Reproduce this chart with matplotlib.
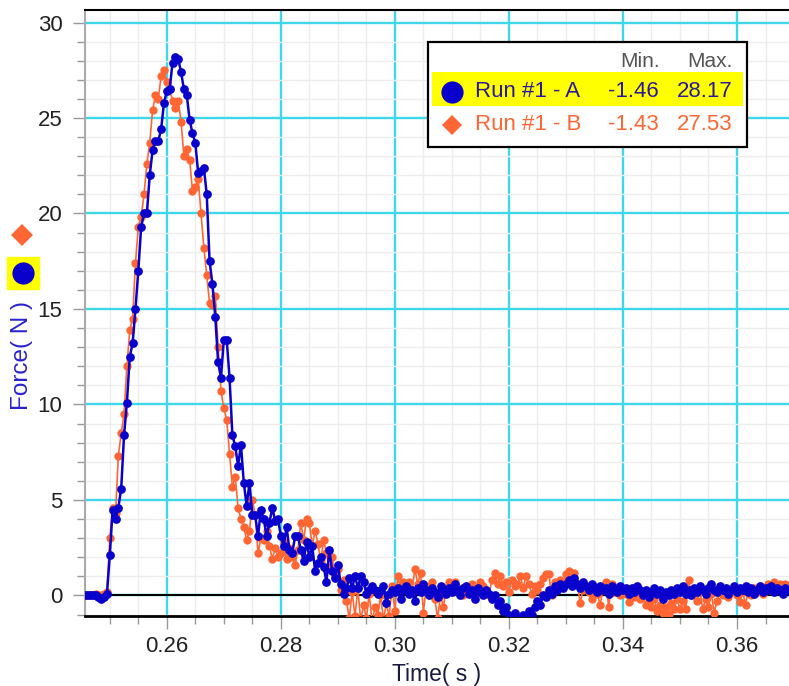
import matplotlib
matplotlib.use('Agg')
import matplotlib.pyplot as plt
from matplotlib.patches import Rectangle
from matplotlib.lines import Line2D
from matplotlib.ticker import MultipleLocator
import numpy as np

plt.rcParams['font.family'] = ['Liberation Sans', 'DejaVu Sans']

# ———————— DATA ————————
T_START = 0.2455
T_STEP = 0.0005

run_a = [
    0.0, 0.0, 0.0, 0.0, 0.0, -0.1, -0.2, -0.1, 0.1,
    2.1, 4.5, 4.0, 4.6, 5.6, 8.4, 10.1, 12.5, 13.2, 15.0, 17.0, 19.3,
    20.0, 20.0, 22.0, 23.3, 23.8, 23.8, 24.4, 25.8, 26.4, 26.5, 27.9, 28.17,
    28.1, 27.4, 26.5, 26.2, 24.9, 24.2, 23.7, 22.1, 22.2, 22.4, 21.0, 17.5,
    16.3, 14.6, 12.2, 11.4, 13.4, 13.4, 11.4, 8.4, 7.8, 6.8, 7.9, 5.9,
    4.7, 5.9, 4.2, 4.2, 3.1, 4.5, 4.0, 3.1, 3.8, 4.6, 3.9, 4.0,
    3.1, 2.6, 3.6, 2.4, 2.2, 3.1, 3.1, 2.4, 1.8, 2.8, 2.0, 2.6,
    1.3, 1.7, 2.0, 1.5, 0.7, 2.4, 1.3, 0.9, 1.6, 0.6, 0.1, 0.4,
    0.9, 0.4, 1.0, 0.4, 1.0, 0.7, 0.1, 0.3, 0.5, 0.3, 0.1, 0.3,
    0.5, -0.4, 0.1, 0.3, 0.2,
    0.4, -0.2, 0.3, 0.5, 0.1, 0.3, -0.3, 0.4, 0.2, 0.6, 0.3, 0.0,
    0.4, 0.2, -0.1, 0.5, 0.3, 0.1, 0.4,
    0.2, 0.6, 0.3, 0.0, 0.4, 0.5, 0.1, 0.3, -0.2, 0.4, 0.2, 0.0, 0.3, 0.1,
    -0.2, 0.0, -0.5, -0.3, -0.8, -0.6, -1.0, -1.2, -0.9, -1.46, -1.2, -1.0,
    -1.3, -0.8,
    -1.0, -0.6, -0.3, -0.5, 0.0, -0.1, 0.3, 0.1, 0.5, 0.3, 0.6, 0.4,
    0.6, 0.8, 0.5, 0.9, 0.6, 0.4, 0.7, 0.5, 0.3, 0.6, 0.4, 0.2,
    0.5, 0.3, 0.4, 0.1, 0.5, 0.3, 0.2, 0.5,
    0.3, 0.4, 0.1, 0.4, 0.2, 0.5, 0.3, 0.0, 0.3, -0.1, 0.2, 0.4,
    0.1, 0.3, -0.2, 0.2, 0.0, 0.3, 0.1, 0.4,
    0.2, 0.5, 0.1, 0.3, 0.0, 0.4, 0.2, 0.5, 0.3, 0.1, 0.4, 0.6,
    0.3, 0.2, 0.5, 0.3, 0.4, 0.1, 0.3, 0.5,
    0.2, 0.4, 0.3, 0.5, 0.2, 0.4, 0.1, 0.3, 0.5, 0.2, 0.4, 0.3,
    0.5, 0.2, 0.4, 0.3, 0.1, 0.4, 0.3,
]

run_b = [
    0.0, 0.0, 0.0, 0.0, 0.1, 0.0, 0.0, 0.1, 0.2,
    3.0, 4.6, 4.3, 7.3, 8.5, 9.5, 12.0, 13.9, 14.5, 17.4, 19.3, 19.8,
    21.0, 22.6, 23.7, 25.4, 26.2, 26.0, 27.2, 27.53, 26.9, 26.5, 25.9, 25.5,
    25.9, 24.8, 23.0, 23.4, 22.8, 21.2, 21.4, 21.8, 20.0, 18.2, 16.8, 15.3,
    15.2, 15.7, 13.0, 10.7, 9.8, 9.2, 7.4, 5.7, 6.2, 4.6, 4.0, 3.6,
    2.9, 3.4, 5.0, 4.2, 2.2, 3.0, 2.9, 3.4, 2.6, 1.9, 2.5, 2.0,
    2.2, 2.8, 1.9, 2.5, 2.0, 1.6, 2.4, 3.8, 2.9, 4.0, 3.8, 2.6,
    3.4, 2.7, 1.8, 2.9, 2.2, 1.4, 2.0, 1.0, 1.4, 0.3, 0.8, -0.3,
    -1.2, 0.2, -1.1, 0.4, -1.3, -0.5, -1.2, 0.1, -1.43, -0.6, -1.0, 0.0,
    -1.3, -0.4, -1.1, 0.5, -0.8,
    1.0, 0.3, 0.7, 0.4, 0.7, 0.2, 1.4, 0.6, 1.2, -0.9, 0.5, 0.3,
    0.7, -0.2, -1.2, 0.0, -0.6, 0.4, 0.7,
    0.5, 0.7, 0.2, 0.3, 0.0, 0.5, 0.3, 0.6, 0.1, 0.4, 0.7, 0.5, 0.3, 0.0,
    0.8, 1.2, 0.6, 1.0, 0.5, 0.7, 0.2, 0.8, 0.5, 0.6, 1.0, 0.4,
    1.0, 0.6,
    0.1, 0.5, 0.3, 0.6, 0.9, 1.1, 1.1, 0.0, 0.7, 0.4, 0.8, 0.5,
    1.1, 1.3, 0.9, 1.2, 0.6, -0.4, 0.3, 0.5, 0.2, -0.2, 0.4, 0.1,
    -0.5, 0.3, 0.7, -0.6, 0.6, 0.2, 0.4, 0.0,
    0.3, 0.1, -0.35, 0.2, -0.1, 0.3, -0.2, 0.0, -0.5, -0.3, -0.6, -0.2,
    -0.8, -0.5, -0.9, -0.6, -0.95, -0.4, -0.7, -0.2,
    -0.7, -0.3, -0.7, 0.8, 0.0, 0.3, -0.3, 0.2, -0.7, -0.2, -0.6, 0.1,
    -0.9, -0.3, 0.2, 0.0, 0.3, -0.1, 0.2, 0.4,
    0.0, -0.35, 0.2, -0.5, 0.3, 0.0, 0.4, 0.2, 0.5, 0.1, 0.4, 0.6,
    0.3, 0.7, 0.5, 0.6, 0.3, 0.6, 0.4,
]

series_names = ['Run #1 - A', 'Run #1 - B']
series_min = ['-1.46', '-1.43']
series_max = ['28.17', '27.53']

time = T_START + T_STEP * np.arange(len(run_a))
time_b = T_START + T_STEP * np.arange(len(run_b))

# ———————— COLORS ————————
BLUE = '#0A00CC'
ORANGE = '#FF6633'
CYAN = '#3ED8EA'
MINOR = '#EDEDED'
YELLOW = '#FFFF00'
TEXT = '#222222'

W, H = 789, 686


def fx(x):
    return x / W


def fy(y):
    return 1 - y / H


fig = plt.figure(figsize=(W / 100, H / 100), dpi=100)
fig.patch.set_facecolor('white')
ax = fig.add_axes([fx(84.6), fy(615.5), fx(789 - 84.6), (615.5 - 10.3) / H])

ax.set_xlim(0.24558, 0.36912)
ax.set_ylim(-1.05, 30.64)

ax.xaxis.set_major_locator(MultipleLocator(0.02))
ax.xaxis.set_minor_locator(MultipleLocator(0.005))
ax.yaxis.set_major_locator(MultipleLocator(5))
ax.yaxis.set_minor_locator(MultipleLocator(1))
ax.xaxis.set_major_formatter(plt.FuncFormatter(lambda v, p: f'{v:.2f}'))

ax.set_axisbelow(True)
ax.grid(which='minor', color=MINOR, lw=1.0)
ax.grid(which='major', color=CYAN, lw=1.7)

ax.tick_params(which='major', length=9, width=1, color='#999999',
               labelsize=16, labelcolor=TEXT)
ax.tick_params(which='minor', length=6, width=1, color='#999999')
ax.tick_params(axis='x', which='major', pad=6)
ax.tick_params(axis='y', which='major', pad=7)

for side in ['top', 'bottom']:
    ax.spines[side].set_color('black')
ax.spines['top'].set_linewidth(1.5)
ax.spines['bottom'].set_linewidth(2.0)
ax.spines['left'].set_color('#AAAAAA')
ax.spines['left'].set_linewidth(1.5)
ax.spines['right'].set_visible(False)

ax.axhline(0, color='black', lw=1.5, zorder=1.5)

# data
ax.plot(time_b, run_b, color=ORANGE, lw=1.2, marker='o', ms=6.0,
        markeredgewidth=0, zorder=3)
ax.plot(time, run_a, color=BLUE, lw=1.8, marker='o', ms=6.3,
        markeredgewidth=0, zorder=4)

# axis labels
fig.text(fx(437), fy(674), 'Time( s )', fontsize=16.5, color='#1A1A40',
         ha='center', va='center')
fig.text(fx(22), fy(355), 'Force( N )', fontsize=17.5, color='#2B22D0',
         ha='center', va='center', rotation=90)

# series markers beside the y axis
fig.patches.append(Rectangle((fx(6.7), fy(289.3)), fx(32.6), 32.6 / H,
                             transform=fig.transFigure, color=YELLOW))
fig.lines.append(Line2D([fx(22)], [fy(235)], transform=fig.transFigure,
                        marker='D', ms=11.5, color=ORANGE, mew=0))
fig.lines.append(Line2D([fx(23)], [fy(273)], transform=fig.transFigure,
                        marker='o', ms=16, color=BLUE, mew=0))

# legend box
fig.patches.append(Rectangle((fx(428.3), fy(146.7)), fx(746.7 - 428.3),
                             (146.7 - 41.7) / H, transform=fig.transFigure,
                             facecolor='white', edgecolor='black', lw=1.6,
                             zorder=10))
fig.patches.append(Rectangle((fx(431.7), fy(106)), fx(742.7 - 431.7),
                             (106 - 71.7) / H, transform=fig.transFigure,
                             facecolor=YELLOW, edgecolor='none', zorder=11))
fig.text(fx(660), fy(61.7), 'Min.', fontsize=15, color='#555555',
         ha='right', va='center', zorder=12)
fig.text(fx(733), fy(61.7), 'Max.', fontsize=15, color='#555555',
         ha='right', va='center', zorder=12)

row_y = [91.7, 125]
row_col = ['#2A1A9A', ORANGE]
row_marker = [('o', 16), ('D', 10.5)]
for k in range(2):
    mk, ms = row_marker[k]
    fig.lines.append(Line2D([fx(451.7)], [fy(row_y[k])],
                            transform=fig.transFigure, marker=mk, ms=ms,
                            color=BLUE if k == 0 else ORANGE, mew=0,
                            zorder=12))
    fig.text(fx(475), fy(row_y[k]), series_names[k], fontsize=16,
             color=row_col[k], ha='left', va='center', zorder=12)
    fig.text(fx(659), fy(row_y[k]), series_min[k], fontsize=16,
             color=row_col[k], ha='right', va='center', zorder=12)
    fig.text(fx(733), fy(row_y[k]), series_max[k], fontsize=16,
             color=row_col[k], ha='right', va='center', zorder=12)

fig.savefig('out.png', dpi=100, facecolor='white')
